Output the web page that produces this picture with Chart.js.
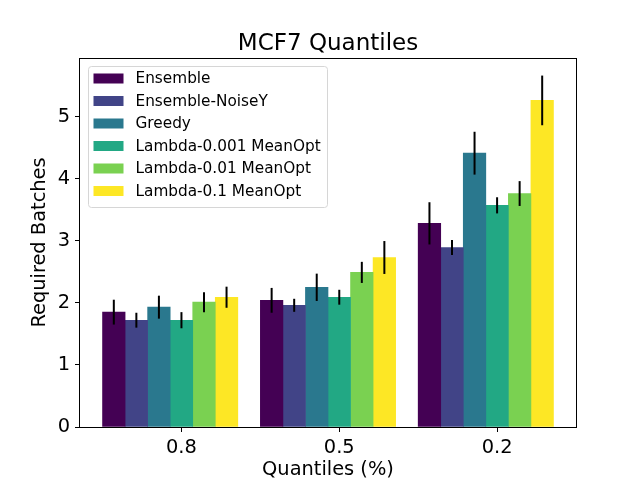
<!DOCTYPE html>
<html lang="en">
  <head>
    <meta charset="UTF-8" />
    <title>MCF7 Quantiles</title>
    <script src="https://cdn.jsdelivr.net/npm/chart.js"></script>
    <style>
      body {
        margin: 0;
        background: #fff;
      }
    </style>
  </head>
  <body>
    <canvas id="quantiles_chart" width="640" height="480"></canvas>

    <script>
      // data
      const categories = ["0.8", "0.5", "0.2"];
      const seriesNames = [
        "Ensemble",
        "Ensemble-NoiseY",
        "Greedy",
        "Lambda-0.001 MeanOpt",
        "Lambda-0.01 MeanOpt",
        "Lambda-0.1 MeanOpt",
      ];
      const ensemble = [1.85, 2.04, 3.28];
      const ensembleNoiseY = [1.72, 1.96, 2.89];
      const greedy = [1.93, 2.25, 4.41];
      const lambda0001 = [1.72, 2.09, 3.57];
      const lambda001 = [2.01, 2.49, 3.76];
      const lambda01 = [2.09, 2.73, 5.26];

      const ensembleErr = [0.2, 0.2, 0.34];
      const ensembleNoiseYErr = [0.12, 0.105, 0.12];
      const greedyErr = [0.185, 0.22, 0.345];
      const lambda0001Err = [0.13, 0.12, 0.13];
      const lambda001Err = [0.16, 0.17, 0.2];
      const lambda01Err = [0.17, 0.265, 0.4];

      const yTicks = [0, 1, 2, 3, 4, 5];

      // viridis, 6 steps
      const seriesColors = ["#440154", "#414487", "#2a788e", "#22a884", "#7ad151", "#fde725"];

      const values = [ensemble, ensembleNoiseY, greedy, lambda0001, lambda001, lambda01];
      const errors = [ensembleErr, ensembleNoiseYErr, greedyErr, lambda0001Err, lambda001Err, lambda01Err];

      const barWidth = 1 / 7;
      const fontFamily = "'DejaVu Sans', sans-serif";

      // bars sit at group + i * barWidth, like matplotlib
      const datasets = seriesNames.map((name, i) => ({
        label: name,
        data: values[i].map((v, g) => ({ x: g + i * barWidth, y: v })),
        errors: errors[i],
        backgroundColor: seriesColors[i],
        borderWidth: 0,
        grouped: false,
        barPercentage: 1,
        categoryPercentage: 1,
      }));

      // matplotlib style 5% margins
      const xLo = -barWidth / 2;
      const xHi = categories.length - 1 + (seriesNames.length - 0.5) * barWidth;
      const xPad = 0.05 * (xHi - xLo);
      let yTop = 0;
      values.forEach((s, i) => s.forEach((v, j) => (yTop = Math.max(yTop, v + errors[i][j]))));

      const errorBars = {
        id: "errorBars",
        afterDatasetsDraw(chart) {
          const ctx = chart.ctx;
          const y = chart.scales.y;
          ctx.save();
          ctx.strokeStyle = "#000";
          ctx.lineWidth = 2;
          chart.data.datasets.forEach((ds, i) => {
            chart.getDatasetMeta(i).data.forEach((bar, j) => {
              const v = ds.data[j].y;
              const e = ds.errors[j];
              ctx.beginPath();
              ctx.moveTo(bar.x, y.getPixelForValue(v - e));
              ctx.lineTo(bar.x, y.getPixelForValue(v + e));
              ctx.stroke();
            });
          });
          ctx.restore();
        },
      };

      // box around axes, title and the legend box
      const frame = {
        id: "frame",
        afterDraw(chart) {
          const ctx = chart.ctx;
          const a = chart.chartArea;
          ctx.save();
          ctx.strokeStyle = "#000";
          ctx.lineWidth = 1;
          ctx.strokeRect(Math.round(a.left) - 0.5, Math.round(a.top) + 0.5, Math.round(a.right - a.left) + 1, Math.round(a.bottom - a.top));

          ctx.fillStyle = "#000";
          ctx.font = "23px " + fontFamily;
          ctx.textAlign = "center";
          ctx.textBaseline = "alphabetic";
          ctx.fillText("MCF7 Quantiles", (a.left + a.right) / 2, a.top - 8);

          // legend
          ctx.font = "15.3px " + fontFamily;
          let textW = 0;
          chart.data.datasets.forEach((ds) => (textW = Math.max(textW, ctx.measureText(ds.label).width)));
          const lx = a.left + 7.5;
          const ly = a.top + 7.5;
          const rowStep = 22.5;
          const w = 6 + 30 + 12 + textW + 6;
          const h = 13 + rowStep * (chart.data.datasets.length - 1) + 15.5;
          ctx.beginPath();
          ctx.roundRect(Math.round(lx) + 0.5, Math.round(ly) + 0.5, Math.round(w), Math.round(h), 3);
          ctx.fillStyle = "rgba(255,255,255,0.8)";
          ctx.fill();
          ctx.strokeStyle = "#d6d6d6";
          ctx.stroke();
          ctx.textAlign = "left";
          ctx.textBaseline = "middle";
          chart.data.datasets.forEach((ds, i) => {
            const cy = ly + 13 + i * rowStep;
            ctx.fillStyle = ds.backgroundColor;
            ctx.fillRect(lx + 6, cy - 5, 30, 10);
            ctx.fillStyle = "#000";
            ctx.fillText(ds.label, lx + 48, cy + 1);
          });
          ctx.restore();
        },
      };

      new Chart(document.getElementById("quantiles_chart").getContext("2d"), {
        type: "bar",
        data: { datasets: datasets },
        plugins: [errorBars, frame],
        options: {
          responsive: false,
          animation: false,
          events: [],
          layout: { padding: { top: 58, right: 64, left: 0, bottom: 0 } },
          plugins: {
            legend: { display: false },
            tooltip: { enabled: false },
          },
          scales: {
            x: {
              type: "linear",
              offset: false,
              min: xLo - xPad,
              max: xHi + xPad,
              afterBuildTicks: (scale) => {
                scale.ticks = categories.map((c, g) => ({ value: g + 3 * barWidth }));
              },
              afterFit: (scale) => {
                scale.height = 53;
              },
              grid: { offset: false, drawOnChartArea: false, drawTicks: true, tickLength: 5, tickColor: "#000" },
              border: { display: false },
              ticks: {
                autoSkip: false,
                maxRotation: 0,
                padding: 4,
                color: "#000",
                font: { family: fontFamily, size: 19.4 },
                callback: (value, index) => categories[index],
              },
              title: {
                display: true,
                text: "Quantiles (%)",
                color: "#000",
                font: { family: fontFamily, size: 19.4, lineHeight: 1 },
                padding: { top: 0, bottom: 0 },
              },
            },
            y: {
              min: 0,
              max: yTop * 1.05,
              afterBuildTicks: (scale) => {
                scale.ticks = yTicks.map((v) => ({ value: v }));
              },
              afterFit: (scale) => {
                scale.width = 80;
              },
              grid: { drawOnChartArea: false, drawTicks: true, tickLength: 5, tickColor: "#000" },
              border: { display: false },
              ticks: {
                padding: 5,
                color: "#000",
                font: { family: fontFamily, size: 19.4 },
              },
              title: {
                display: true,
                text: "Required Batches",
                color: "#000",
                font: { family: fontFamily, size: 19.4, lineHeight: 1 },
                padding: { top: 30, bottom: 0 },
              },
            },
          },
        },
      });
    </script>
  </body>
</html>
